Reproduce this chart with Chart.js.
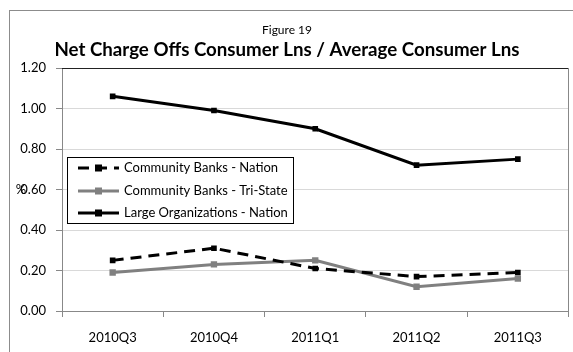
<!DOCTYPE html>
<html>
<head>
<meta charset="utf-8">
<script src="https://cdn.jsdelivr.net/npm/chart.js@4.4.1/dist/chart.umd.min.js"></script>
<style>
  html, body { margin: 0; padding: 0; background: #fff; }
  #wrap { width: 573px; height: 352px; position: relative; }
</style>
</head>
<body>
<div id="wrap"><canvas id="c"></canvas></div>
<script>
// quarters and series (percent)
const quarters = ['2010Q3', '2010Q4', '2011Q1', '2011Q2', '2011Q3'];
const cbNation = [0.25, 0.31, 0.21, 0.17, 0.19];
const cbTriState = [0.19, 0.23, 0.25, 0.12, 0.16];
const largeOrgs = [1.06, 0.99, 0.90, 0.72, 0.75];
const yTicks = [0, 0.2, 0.4, 0.6, 0.8, 1.0, 1.2];

const FONT = 'Lato, "Open Sans", sans-serif';

// frame, titles, plot border, "%" label and the boxed legend
const decor = {
  id: 'decor',
  beforeDraw(chart) {
    const ctx = chart.ctx;
    ctx.save();
    ctx.fillStyle = '#fff';
    ctx.fillRect(0, 0, chart.width, chart.height);
    ctx.strokeStyle = '#8c8c8c';
    ctx.lineWidth = 1;
    ctx.strokeRect(9.5, 10.5, 580, 360);
    ctx.restore();
  },
  afterDraw(chart) {
    const ctx = chart.ctx;
    const a = chart.chartArea;
    ctx.save();
    ctx.fillStyle = '#000';
    ctx.textAlign = 'center';
    ctx.textBaseline = 'middle';
    ctx.font = '12px ' + FONT;
    ctx.fillText('Figure 19', 287, 30);
    ctx.font = 'bold 18.7px ' + FONT;
    ctx.fillText('Net Charge Offs Consumer Lns / Average Consumer Lns', 287, 50);

    // plot border
    ctx.strokeStyle = '#222';
    ctx.lineWidth = 1;
    ctx.beginPath();
    ctx.moveTo(a.left, Math.round(a.top) + 0.5);
    ctx.lineTo(a.right, Math.round(a.top) + 0.5);
    ctx.stroke();
    ctx.strokeStyle = '#888';
    ctx.beginPath();
    ctx.moveTo(Math.round(a.right) - 0.5, a.top);
    ctx.lineTo(Math.round(a.right) - 0.5, a.bottom + 6);
    ctx.stroke();

    // axis title
    ctx.font = '13px ' + FONT;
    ctx.fillText('%', 21, 190);

    // legend
    const lx = 67, ly = 157, lw = 226, lh = 66;
    ctx.fillStyle = '#fff';
    ctx.fillRect(lx, ly, lw, lh);
    ctx.strokeStyle = '#000';
    ctx.strokeRect(lx + 0.5, ly + 0.5, lw, lh);
    const rows = [168, 191, 213];
    chart.data.datasets.forEach((ds, i) => {
      const y = rows[i];
      ctx.strokeStyle = ds.borderColor;
      ctx.lineWidth = ds.borderWidth;
      ctx.setLineDash(ds.borderDash || []);
      ctx.beginPath();
      ctx.moveTo(78, y);
      ctx.lineTo(119, y);
      ctx.stroke();
      ctx.setLineDash([]);
      ctx.fillStyle = ds.pointBackgroundColor;
      ctx.fillRect(95, y - 3.5, 7, 7);
      ctx.fillStyle = '#000';
      ctx.textAlign = 'left';
      ctx.font = '13px ' + FONT;
      ctx.fillText(ds.label, 124, y);
    });
    ctx.restore();
  }
};

new Chart(document.getElementById('c'), {
  type: 'line',
  data: {
    labels: quarters,
    datasets: [
      { label: 'Community Banks - Nation', data: cbNation, borderColor: '#000', borderWidth: 3, borderDash: [11, 7],
        pointStyle: 'rect', pointRadius: 4, pointBackgroundColor: '#000', pointBorderWidth: 0, tension: 0 },
      { label: 'Community Banks - Tri-State', data: cbTriState, borderColor: '#808080', borderWidth: 3,
        pointStyle: 'rect', pointRadius: 4.5, pointBackgroundColor: '#808080', pointBorderWidth: 0, tension: 0 },
      { label: 'Large Organizations - Nation', data: largeOrgs, borderColor: '#000', borderWidth: 3,
        pointStyle: 'rect', pointRadius: 4, pointBackgroundColor: '#000', pointBorderWidth: 0, tension: 0 }
    ]
  },
  options: {
    responsive: true, maintainAspectRatio: false, animation: false,
    layout: { padding: { left: 9, top: 68, right: 2, bottom: 0 } },
    plugins: { legend: { display: false }, tooltip: { enabled: false } },
    scales: {
      x: {
        offset: true,
        afterFit: s => { s.height = 41; },
        grid: { offset: true, drawOnChartArea: false, drawTicks: true, tickLength: 6, color: '#888' },
        border: { color: '#888' },
        ticks: { color: '#000', font: { family: FONT, size: 13 }, padding: 13 }
      },
      y: {
        min: 0, max: 1.2,
        afterFit: s => { s.width = 53; },
        afterBuildTicks: s => { s.ticks = yTicks.map(v => ({ value: v })); },
        grid: { color: '#d9d9d9', drawTicks: true, tickLength: 6, tickColor: '#888' },
        border: { color: '#888' },
        ticks: { color: '#000', font: { family: FONT, size: 13 }, padding: 10, callback: v => v.toFixed(2) }
      }
    }
  },
  plugins: [decor]
});
</script>
</body>
</html>
